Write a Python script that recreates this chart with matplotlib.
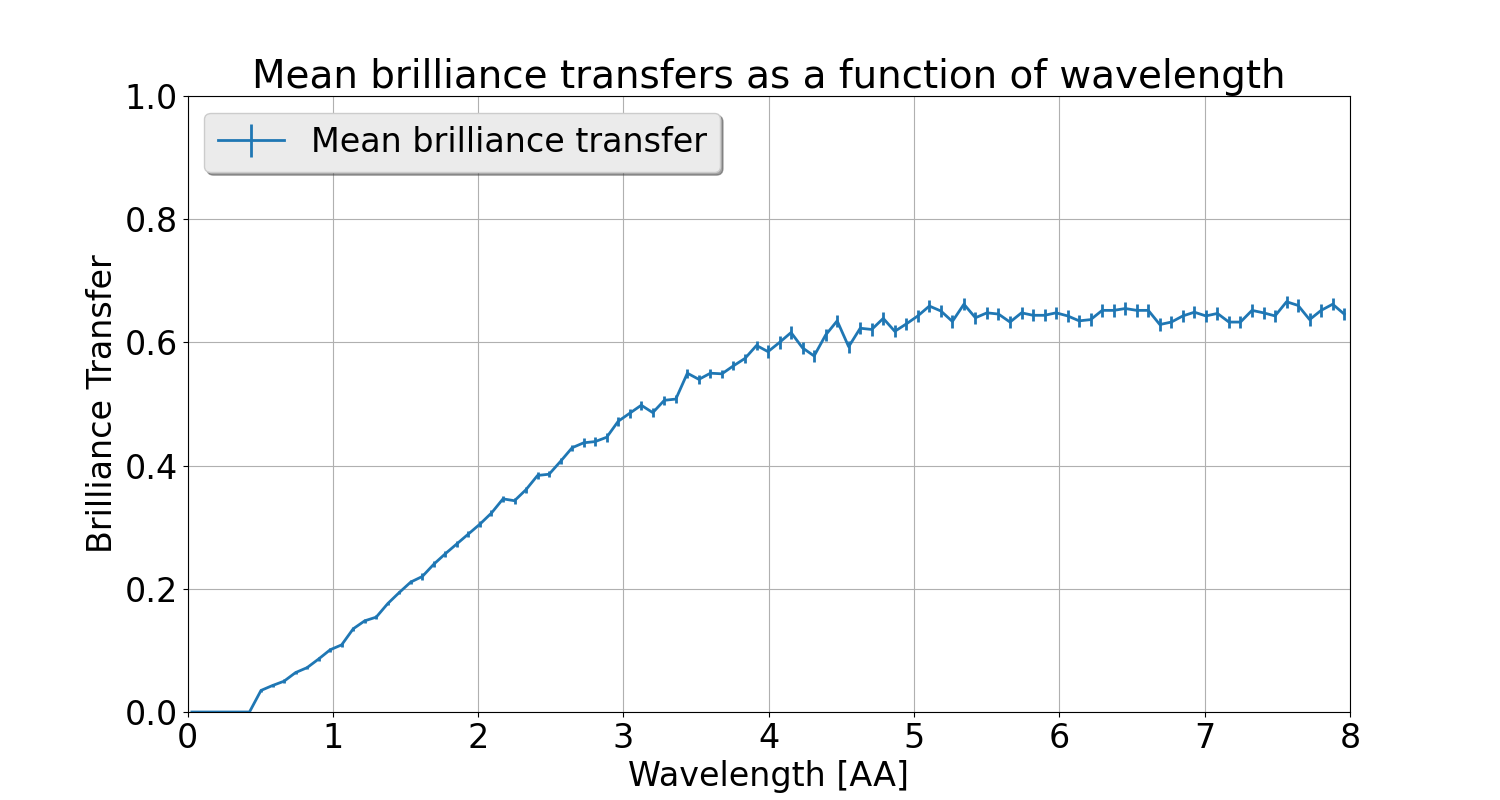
import numpy as np
import matplotlib
matplotlib.use('Agg')
import matplotlib.pyplot as plt

# 波長と平均輝度伝達
wavelength = np.linspace(0.03, 7.96, 101)
transfer = [0, 0, 0, 0, 0, 0,
            0.035, 0.043, 0.050, 0.064, 0.072, 0.086, 0.101, 0.109, 0.135, 0.148,
            0.154, 0.176, 0.194, 0.211, 0.220, 0.240, 0.257, 0.273, 0.289, 0.305,
            0.323, 0.346, 0.343, 0.361, 0.384, 0.386, 0.407, 0.429, 0.437, 0.439,
            0.446, 0.472, 0.485, 0.498, 0.486, 0.506, 0.508, 0.550, 0.540, 0.550,
            0.549, 0.562, 0.574, 0.595,
            0.585, 0.600, 0.616, 0.591, 0.578, 0.612, 0.635, 0.593, 0.623, 0.621,
            0.639, 0.618, 0.630, 0.643, 0.659, 0.651, 0.634, 0.662, 0.640, 0.648,
            0.646, 0.633, 0.648, 0.644, 0.644, 0.648, 0.643, 0.635, 0.637, 0.652,
            0.652, 0.655, 0.652, 0.652, 0.629, 0.633, 0.643, 0.649, 0.643, 0.647,
            0.633, 0.633, 0.652, 0.648, 0.643, 0.666, 0.660, 0.637, 0.652, 0.662,
            0.646]
transfer_err = ([0.0] * 6 + [0.003] * 14 + [0.005] * 14 + [0.007] * 16
                + [0.01] * 20 + [0.01] * 31)

fig = plt.figure(figsize=(15, 8), dpi=100)
ax = fig.add_subplot(111)
ax.errorbar(wavelength, transfer, yerr=transfer_err, color='#1f77b4',
            linewidth=2, elinewidth=2, label='Mean brilliance transfer')
ax.set_xlim(0, 8)
ax.set_ylim(0, 1)
ax.grid(True, color='#b0b0b0')
ax.set_title('Mean brilliance transfers as a function of wavelength', fontsize=28)
ax.set_xlabel('Wavelength [AA]', fontsize=24)
ax.set_ylabel('Brilliance Transfer', fontsize=24)
ax.tick_params(labelsize=24)
leg = ax.legend(loc='upper left', fontsize=24, shadow=True, fancybox=True,
                facecolor='#ebebeb', framealpha=1)
leg.get_frame().set_edgecolor('#cccccc')
fig.savefig('out.png')
